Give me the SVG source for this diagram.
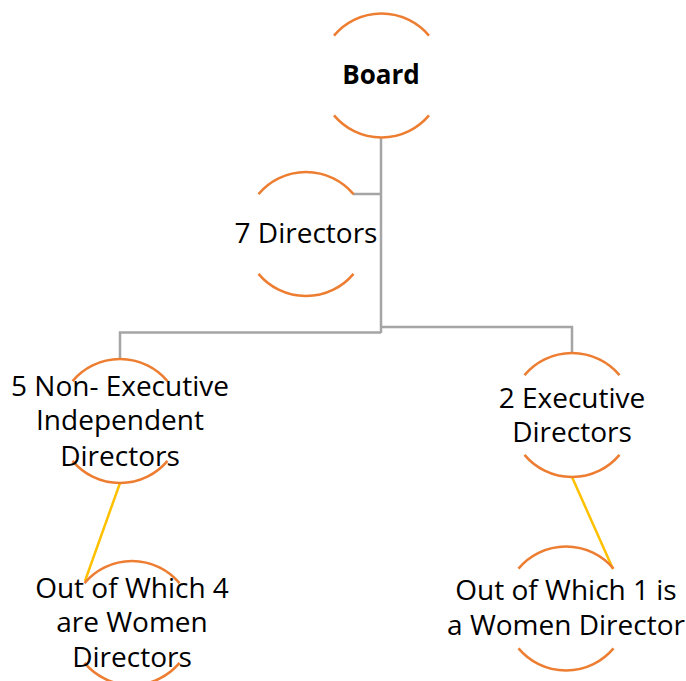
<svg xmlns="http://www.w3.org/2000/svg" xmlns:xlink="http://www.w3.org/1999/xlink" width="686" height="681" viewBox="0 0 686 681">
<style>
.ring{fill:none;stroke:#ED7D31;stroke-width:2.5}
.tree{fill:none;stroke:#A5A5A5;stroke-width:2.5}
.link{fill:none;stroke:#FFC000;stroke-width:2.5}
text{font-family:"Open Sans","Liberation Sans",sans-serif;font-size:28px;fill:#000;text-anchor:middle}
.b{font-weight:bold;font-size:26px}
</style>
<defs>
<path id="ring" class="ring" d="M-47.5 -39.9 A62 62 0 0 1 47.5 -39.9 M-47.5 39.9 A62 62 0 0 0 47.5 39.9"/>
</defs>
<rect width="686" height="681" fill="#fff"/>
<g id="connectors">
<path class="tree" d="M381 137 V333 M381 194 H353 M381 332.5 H120 V359 M381 327 H572 V353"/>
<path class="link" d="M120 483 L85 581 M572 477 L613 569"/>
</g>
<g id="board">
<use xlink:href="#ring" x="381.5" y="75.5"/>
<text class="b" x="381" y="84">Board</text>
</g>
<g id="directors7">
<use xlink:href="#ring" x="306" y="234"/>
<text x="306" y="243">7 Directors</text>
</g>
<g id="nonexec">
<use xlink:href="#ring" x="120" y="421"/>
<text x="120" y="396">5 Non- Executive</text>
<text x="120" y="430">Independent</text>
<text x="120" y="466">Directors</text>
</g>
<g id="exec">
<use xlink:href="#ring" x="572" y="415"/>
<text x="572" y="408">2 Executive</text>
<text x="572" y="442">Directors</text>
</g>
<g id="women4">
<use xlink:href="#ring" x="132" y="623"/>
<text x="132" y="598">Out of Which 4</text>
<text x="132" y="632">are Women</text>
<text x="132" y="667">Directors</text>
</g>
<g id="women1">
<use xlink:href="#ring" x="566" y="608.5"/>
<text x="566" y="600">Out of Which 1 is</text>
<text x="566" y="635">a Women Director</text>
</g>
</svg>
